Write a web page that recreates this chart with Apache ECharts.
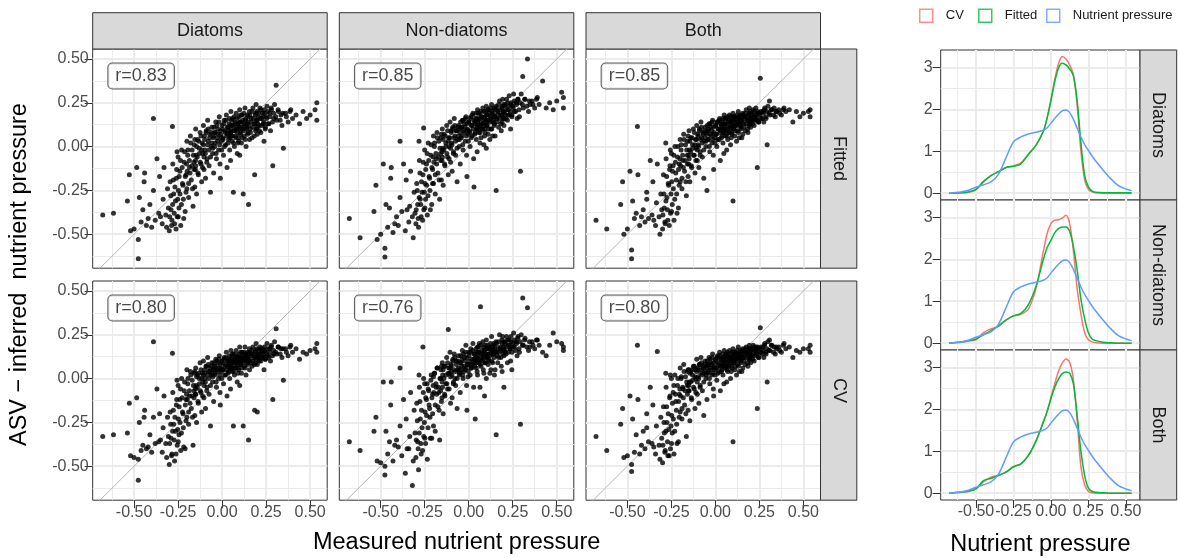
<!DOCTYPE html>
<html><head><meta charset="utf-8">
<script src="https://cdn.jsdelivr.net/npm/echarts@6/dist/echarts.min.js"></script>
<style>html,body{margin:0;padding:0;background:#fff}#c{width:1178px;height:558px}</style>
</head><body><div id="c"></div>
<script>
// ---------- data ----------
const COL_FACETS = ['Diatoms', 'Non-diatoms', 'Both'];
const ROW_FACETS = ['Fitted', 'CV'];
const R_LABELS = ['r=0.83', 'r=0.85', 'r=0.85', 'r=0.80', 'r=0.76', 'r=0.80'];
const X_TICKS = [-0.5, -0.25, 0, 0.25, 0.5];
const MINOR_TICKS = [-0.625, -0.375, -0.125, 0.125, 0.375];
const DENS_Y_TICKS = [0, 1, 2, 3];
const DENS_Y_MINOR = [0.5, 1.5, 2.5];
const LEGEND_NAMES = ['CV', 'Fitted', 'Nutrient pressure'];

const MEASURED = [-.678,-.617,-.538,-.527,-.485,-.476,-.476,-.50,-.46,-.47,
-.52,-.45,-.44,-.43,-.42,-.41,-.40,-.39,-.39,-.38,
-.37,-.36,-.35,-.355,-.34,-.335,-.33,-.32,-.315,-.31,
-.305,-.30,-.295,-.29,-.285,-.282,-.28,-.275,-.27,-.265,
-.26,-.255,-.25,-.248,-.245,-.24,-.235,-.23,-.225,-.22,
-.215,-.21,-.205,-.20,-.20,-.195,-.19,-.185,-.18,-.175,
-.17,-.165,-.16,-.158,-.155,-.152,-.15,-.148,-.145,-.14,
-.135,-.13,-.125,-.12,-.116,-.113,-.11,-.106,-.103,-.10,
-.098,-.094,-.09,-.086,-.082,-.078,-.074,-.07,-.066,-.062,
-.058,-.054,-.05,-.048,-.044,-.04,-.036,-.032,-.028,-.024,
-.02,-.016,-.012,-.008,-.01,-.004,0,.004,.008,.012,
.016,.02,.024,.028,.03,.034,.037,.04,.043,.046,
.05,.05,.048,.054,.057,.06,.064,.067,.07,.073,
.076,.08,.083,.086,.089,.092,.095,.098,.10,.09,
.10,.103,.106,.11,.113,.116,.12,.123,.126,.13,
.133,.136,.14,.143,.146,.15,.148,.156,.155,.16,
.165,.17,.175,.18,.185,.188,.19,.193,.196,.20,
.198,.20,.205,.21,.215,.22,.225,.23,.235,.238,
.24,.245,.25,.255,.26,.27,.275,.28,.288,.294,
.298,.307,.31,.32,.334,.34,.348,.36,.375,.39,
.40,.42,.44,.46,.48,.50,.528,.538,.538,-.443,-.256,
-.298,-.292,-.287,-.281,-.277,-.272,-.268,-.262,-.258,-.252,
-.249,-.244,-.239,-.236,-.231,-.227,-.222,-.218,-.213,-.209,-.205,-.202,
-.198,-.194,-.19,-.186,-.182,-.178,-.172,-.168,-.163,-.159,-.155,-.151,
-.149,-.145,-.141,-.137,-.133,-.129,-.124,-.12,-.116,-.111,-.107,-.103,
-.099,-.095,-.091,-.087,-.083,-.079,-.075,-.071,-.066,-.062,-.058,-.053,
-.049,-.046,-.042,-.038,-.034,-.03,-.026,-.022,-.018,-.014,-.01,-.006,-.002,
.002,.006,.01,.014,.018,.022,.026,.03,.034,.038,.042,.045,.047,.049,
.052,.055,.058,.061,.065,.068,.071,.074,.078,.081,.085,.088,.091,.094,.097,
.101,.104,.107,.11,.114,.117,.12,.124,.127,.131,.134,.138,.141,.145,.149,
.152,.157,.161,.166,.17,.174,.178,.183,.187,.191,.195,.199,
.203,.208,.212,.217,.221,.226,.231,.236,.241,.246,
.253,.259,.266,.272,.279,.286,.293,
.305,.318,.33,.345,.365,.385];

const DIATOMS_FITTED = [-.39,-.38,-.31,-.16,-.12,-.64,-.53,-.47,-.43,-.29,
-.48,-.36,-.15,-.45,-.41,-.33,-.46,.16,-.25,-.42,
-.07,-.38,-.40,-.17,-.44,-.30,-.12,-.39,-.46,-.24,
-.35,-.48,-.20,-.36,-.42,.115,-.10,-.27,-.44,-.31,
-.18,-.40,-.06,-.25,-.35,-.14,-.45,-.02,-.21,-.30,
-.09,-.37,-.16,.03,-.24,-.05,-.29,-.12,.06,-.19,
-.02,-.34,-.09,.01,-.23,-.13,.10,-.05,-.27,.04,
-.16,-.01,.08,-.10,-.20,.02,-.04,.12,-.13,.06,
-.02,-.18,.09,-.07,.15,.03,-.11,.07,-.26,0,
.11,-.04,.05,-.15,.08,.02,.14,-.07,.05,.10,
-.02,.17,-.10,.07,-.18,.03,.12,.05,-.05,.15,
.09,.01,.18,-.12,.07,.11,.04,.13,-.02,.08,
.20,.06,-.08,.12,.03,.16,-.26,.09,0,.14,
.06,.19,.10,-.04,.13,.05,.17,.11,-.05,.02,
.21,.08,.14,.02,.18,.10,-.27,.13,.06,.22,
.15,0,.11,.18,.08,-.33,.14,.04,.20,.10,
.16,.05,.22,.13,-.16,.18,.09,.24,.15,.11,
.20,.07,.17,.12,.22,.08,.16,.19,.13,.03,
.21,.10,.17,.23,.13,.19,.09,.21,-.11,.16,
.24,.35,.15,.20,.18,.12,-.01,.19,.14,.21,
.16,.18,.13,.20,.16,.18,.21,.25,.15,-.20,-.03,
-.40,-.28,-.45,-.33,-.19,-.38,-.23,-.47,-.13,-.30,
-.40,-.17,-.27,-.08,-.33,-.12,-.22,-.41,-.03,-.17,-.26,-.10,
-.14,-.02,-.21,-.08,-.15,.02,-.11,-.24,-.05,-.13,.04,-.08,
-.11,0,-.06,-.15,.03,-.04,-.09,.06,-.02,-.12,.01,-.06,
.04,-.04,.08,-.09,.01,.10,-.02,.05,-.06,.08,.02,-.01,
.06,.11,0,.08,-.04,.12,.03,.07,.14,.01,.09,.05,-.02,
.10,.04,.13,0,.08,.15,.06,.11,.02,.09,.16,.05,.12,.08,
.10,.15,.06,.12,.02,.17,.09,.13,.05,.11,.16,.08,.13,.03,.10,
.14,.07,.18,.11,.05,.15,.09,.19,.12,.04,.16,.10,.13,.07,.17,
.12,.18,.08,.14,.20,.11,.16,.06,.13,.19,.10,.15,
.13,.19,.09,.16,.21,.12,.17,.14,.19,.11,
.16,.20,.13,.17,.22,.14,.19,
.17,.21,.15,.19,.17,.20];

const NONDIATOMS_FITTED = [-.41,-.52,-.37,-.22,-.10,-.63,-.58,-.50,-.46,-.33,
-.53,-.35,-.12,-.49,-.44,-.40,-.45,.03,-.29,-.37,
-.10,-.48,-.36,-.19,-.43,-.34,-.14,-.40,-.52,-.26,
-.38,-.44,-.21,-.33,-.46,.03,-.08,-.30,-.40,-.26,
-.16,-.36,-.02,-.21,-.30,-.10,-.39,.02,-.17,-.25,
-.05,-.33,-.13,.06,-.21,0,-.27,-.07,.08,-.15,
.03,-.30,-.04,.05,-.19,-.08,.10,-.01,-.22,.07,
-.11,.02,.12,-.06,-.16,.05,0,.14,-.09,.09,
.02,-.14,.10,-.03,.16,.06,-.05,.09,-.20,.04,
.12,0,.08,-.10,.11,.06,.15,-.02,.09,.13,
.03,.17,-.05,.10,-.17,.07,.14,.09,0,.17,
.12,.06,.19,-.07,-.23,.14,.08,.16,.04,.11,
.21,.10,-.03,.15,.08,.19,.02,.12,.05,.17,
.10,.22,.13,.01,.16,.10,.20,.14,-.01,.06,
.23,.12,.18,.07,.21,.15,.04,.17,.10,.24,
.19,.06,.15,.22,.13,.06,.17,-.25,.23,.16,
.20,.11,.26,.18,.09,.22,.14,.27,.20,.16,
.24,.12,.23,.18,.27,.15,.21,.29,.18,.10,
.25,.17,.23,.30,.20,.25,.16,.27,.17,-.14,
.30,.40,.22,.27,.50,.20,.24,.26,.22,.28,
.24,.375,.22,.25,.21,.26,.31,.22,.28,-.18,.106,
-.36,-.25,-.41,-.29,-.15,-.33,-.20,-.42,-.09,-.26,
-.35,-.13,-.22,-.04,-.28,-.08,-.18,-.36,.01,-.12,-.21,-.06,
-.09,.02,-.16,-.04,-.10,.05,-.06,-.19,-.01,-.08,.07,-.03,
-.06,.04,-.02,-.10,.06,0,-.04,.09,.03,-.07,.05,-.01,
.08,.01,.11,-.04,.05,.12,.03,.09,-.01,.11,.06,.04,
.10,.14,.05,.11,.01,.15,.08,.11,.16,.06,.13,.09,.03,
.14,.08,.16,.05,.12,.18,.10,.15,.07,.13,.19,.10,.16,.12,
.14,.19,.11,.16,.08,.20,.13,.17,.10,.15,.20,.12,.17,.08,.15,
.18,.12,.21,.15,.10,.19,.14,.22,.16,.10,.20,.14,.18,.12,.21,
.17,.22,.14,.19,.24,.16,.21,.13,.18,.23,.16,.20,
.19,.24,.16,.21,.25,.18,.23,.20,.24,.18,
.22,.26,.20,.24,.27,.21,.25,
.24,.27,.23,.26,.24,.27];

const BOTH_FITTED = [-.42,-.47,-.33,-.20,-.14,-.64,-.59,-.47,-.41,-.31,
-.50,-.38,-.16,-.45,-.40,-.36,-.43,-.30,-.26,-.41,
-.08,-.39,-.42,-.20,-.45,-.32,-.10,-.40,-.50,-.27,
-.36,-.47,-.16,-.35,-.44,.02,-.07,-.29,-.42,-.22,
-.13,-.38,-.04,-.20,-.33,-.11,-.42,0,-.15,-.27,
-.06,-.35,-.10,.04,-.20,-.02,-.24,-.08,.07,-.14,
.01,-.28,-.05,.03,-.17,-.10,.09,-.02,-.20,.05,
-.12,.01,.10,-.05,-.15,.04,-.01,.12,-.08,.07,
.01,-.12,.09,-.03,.14,.05,-.06,.08,-.18,.03,
.11,0,.07,-.25,.09,.04,.13,-.03,.07,.11,
.02,.15,-.05,.08,-.13,.05,.12,.07,0,.14,
.10,.04,.16,-.08,.09,.12,.06,.14,.02,.10,
.18,.08,-.04,.13,.06,.16,-.02,.10,.04,.15,
.08,.18,.11,.01,.14,.08,.17,.12,-.31,.05,
.19,.10,.15,.06,.17,.12,.03,.14,.09,.20,
.16,.05,.13,.18,.11,.05,.15,.07,.19,.13,
.17,.09,.21,.15,.08,.18,.12,.22,.16,.14,
.20,.11,.18,.15,.21,.12,.17,.22,.15,-.12,
.20,.14,.19,.39,.16,.20,.14,.22,.16,.01,
.23,.26,.18,.21,.22,.17,.20,.21,.18,.22,
.20,.21,.14,.20,.17,.19,.20,.17,.21,.115,-.02,
-.39,-.27,-.43,-.31,-.17,-.36,-.21,-.45,-.11,-.27,
-.37,-.14,-.24,-.05,-.30,-.09,-.19,-.38,0,-.13,-.22,-.07,
-.11,.01,-.18,-.05,-.12,.04,-.08,-.20,-.02,-.10,.06,-.05,
-.07,.03,-.03,-.11,.05,-.01,-.05,.08,.01,-.08,.04,-.02,
.06,0,.10,-.05,.04,.11,.02,.07,-.02,.09,.05,.03,
.08,.12,.04,.10,0,.13,.06,.09,.14,.04,.11,.07,.02,
.12,.07,.14,.04,.10,.15,.08,.13,.05,.11,.16,.08,.13,.10,
.12,.16,.09,.13,.06,.17,.11,.14,.08,.13,.17,.10,.15,.07,.12,
.15,.10,.17,.13,.09,.16,.12,.18,.14,.08,.17,.12,.15,.10,.17,
.14,.18,.11,.16,.19,.13,.17,.10,.15,.19,.13,.16,
.15,.19,.13,.17,.20,.15,.18,.16,.19,.14,
.18,.20,.16,.19,.21,.17,.20,
.19,.21,.18,.20,.19,.21];

const DIATOMS_CV = [-.33,-.32,-.31,-.14,-.11,-.58,-.46,-.45,-.41,-.25,
-.44,-.38,-.18,-.40,-.39,-.32,-.42,.21,-.22,-.37,
-.06,-.36,-.35,-.20,-.42,-.28,-.10,-.37,-.45,-.22,
-.33,-.49,-.19,-.34,-.43,.145,-.08,-.26,-.47,-.30,
-.15,-.38,-.04,-.23,-.32,-.12,-.41,0,-.19,-.28,
-.07,-.40,-.12,.05,-.22,-.03,-.26,-.10,.04,-.17,
-.01,-.38,-.07,.03,-.21,-.09,.06,-.04,-.25,.02,
-.14,0,.09,-.08,-.19,.03,-.02,.10,-.11,.05,
0,-.17,.07,-.05,.12,.04,-.09,.06,-.27,.02,
.09,-.02,.05,-.13,.07,.03,.11,-.05,.05,.09,
0,.13,-.08,.06,-.15,.04,.10,.05,-.03,.12,
.08,.02,.15,-.10,.07,.10,.04,.11,0,.08,
.16,.06,-.06,.11,.04,.14,-.27,.09,.02,.12,
.06,.16,.09,-.02,.11,.06,.14,.10,-.04,.03,
.18,.08,.12,.03,.15,.10,-.27,.12,.07,.18,
.13,.02,.11,.15,.09,-.35,.12,.05,.17,.10,
.14,.07,.18,.12,-.18,.15,.09,.20,.13,-.19,
.17,.08,.14,.12,.18,.10,.15,.17,.12,.05,
.18,.11,.15,.20,.13,.17,.10,.19,-.12,.14,
.21,.285,.14,.18,.17,.12,-.01,.17,.13,.19,
.15,.17,.11,.15,.14,.16,.17,.20,.15,-.22,-.01,
-.37,-.26,-.44,-.30,-.18,-.35,-.22,-.43,-.12,-.29,
-.36,-.16,-.25,-.06,-.31,-.11,-.20,-.39,-.02,-.15,-.24,-.09,
-.12,0,-.19,-.07,-.14,.02,-.10,-.22,-.04,-.11,.04,-.06,
-.09,.01,-.05,-.13,.03,-.03,-.07,.05,0,-.10,.02,-.04,
.03,-.02,.07,-.07,.02,.08,0,.04,-.04,.07,.03,.01,
.05,.09,.02,.07,-.02,.10,.04,.06,.11,.02,.08,.05,0,
.09,.05,.11,.02,.07,.12,.05,.10,.03,.08,.13,.06,.10,.07,
.09,.13,.06,.10,.04,.14,.08,.11,.06,.10,.13,.08,.12,.05,.09,
.12,.08,.15,.10,.06,.13,.09,.15,.11,.06,.14,.10,.12,.08,.14,
.11,.15,.09,.13,.16,.10,.14,.08,.12,.16,.11,.13,
.12,.16,.10,.14,.17,.12,.15,.13,.16,.11,
.14,.17,.12,.15,.18,.13,.16,
.15,.18,.14,.17,.15,.18];

const NONDIATOMS_CV = [-.36,-.41,-.30,-.22,-.02,-.55,-.50,-.48,-.43,-.30,
-.47,-.36,-.02,-.47,-.38,-.35,-.39,.06,-.27,-.44,
-.12,-.54,-.40,-.23,-.40,-.33,-.08,-.61,-.47,-.18,
-.31,-.45,-.14,-.36,-.52,.02,-.05,-.23,-.43,-.28,
.18,-.33,-.03,-.19,-.37,-.12,-.46,-.06,-.15,-.22,
-.01,-.34,-.09,.01,-.27,.03,-.30,-.05,.06,-.16,
-.08,-.35,0,.05,-.13,-.11,.09,.02,-.20,.07,
-.10,-.03,.12,-.06,.28,.06,.03,.15,-.14,.08,
.04,-.11,.11,-.02,.14,0,-.04,.10,-.17,.05,
.13,.02,.03,-.08,.09,.07,.16,0,.04,.12,
.05,.19,-.04,.08,-.18,.01,.15,.10,.02,.17,
.06,.08,.20,-.05,.11,.14,-.23,.10,.06,.12,
.18,.02,.04,.15,.09,.20,-.05,.41,.07,.14,
.11,.21,.05,.03,.16,.09,.19,.13,0,-.10,
.22,.12,.17,.08,.11,.14,.03,.18,.05,.24,
.16,.09,.14,.20,.02,.05,.17,-.32,.21,.15,
.09,.12,.25,.17,.07,.22,.04,.24,.18,.13,
.21,-.05,.20,.15,.24,.09,.19,.22,.17,.10,
.24,.05,.20,.26,.18,.21,.13,.24,.15,-.26,
.25,.46,.19,.23,.405,.16,.18,.21,.17,.22,
.19,.15,.13,.19,.26,.21,.20,.18,.16,-.15,0,
-.35,-.24,-.40,-.31,-.13,-.37,-.18,-.41,-.08,-.25,
-.34,-.11,-.21,-.03,-.28,-.07,-.17,-.34,.02,-.11,-.20,-.04,
-.08,.03,-.15,-.03,-.09,.06,-.05,-.18,0,-.07,.07,-.02,
-.05,.05,0,-.09,.07,.02,-.03,.09,.03,-.06,.06,.01,
.07,.02,.10,-.03,.05,.12,.04,.08,0,.10,.06,.04,
.09,.13,.05,.11,.02,.14,.07,.10,.15,.06,.12,.08,.04,
.13,.08,.15,.06,.11,.16,.09,.14,.07,.12,.17,.09,.15,.11,
.13,.18,.10,.15,.08,.19,.12,.16,.10,.14,.18,.12,.16,.09,.14,
.17,.12,.19,.14,.10,.17,.13,.20,.15,.10,.18,.14,.16,.12,.19,
.15,.20,.13,.17,.21,.15,.18,.12,.16,.20,.14,.17,
.16,.21,.14,.18,.22,.15,.19,.17,.21,.15,
.18,.22,.16,.20,.23,.17,.21,
.19,.22,.18,.21,.19,.22];

const BOTH_CV = [-.33,-.41,-.26,-.17,-.10,-.53,-.49,-.44,-.42,-.23,
-.45,-.32,-.12,-.43,-.38,-.30,-.40,-.28,-.20,-.36,
-.05,-.37,-.39,-.15,-.43,-.27,.155,-.38,-.46,-.22,
-.34,-.48,-.16,-.31,-.41,.03,-.05,-.25,-.44,-.29,
-.11,-.40,0,-.21,-.31,-.08,-.43,.02,-.13,-.26,
-.04,-.36,-.09,.06,-.19,0,-.23,-.06,.08,-.15,
.01,-.33,-.04,.04,-.18,-.07,.05,-.02,-.24,.04,
-.12,.02,.07,-.06,-.17,.05,0,.11,-.09,.06,
.01,-.14,.08,-.04,.12,.05,-.07,.07,-.21,.03,
.10,0,.06,-.12,.08,.04,.12,-.03,.06,.09,
.02,.14,-.06,.07,-.10,.05,.11,.06,-.01,.13,
.09,.04,.15,-.07,.07,.11,.05,.12,.02,.09,
.16,.07,-.03,.12,.06,.14,-.02,.09,.04,.13,
.07,.16,.10,0,.12,.07,.15,.11,-.36,.04,
.17,.09,.13,.05,.15,.11,.02,.12,.08,.18,
.14,.04,.12,.16,.10,.04,.13,.06,.17,.12,
.15,.08,.18,.14,.07,.16,.11,.19,.15,.12,
.17,.09,.16,.13,.19,.10,.16,.18,.14,-.17,
.18,.12,.17,.29,.15,.18,.12,.20,.14,-.02,
.21,.22,.16,.19,.18,.14,.17,.18,.15,.20,
.17,.18,.12,.16,.15,.17,.17,.19,.15,.19,.02,
-.38,-.25,-.42,-.30,-.16,-.36,-.20,-.44,-.10,-.27,
-.37,-.14,-.23,-.04,-.30,-.09,-.18,-.37,0,-.13,-.22,-.06,
-.10,.01,-.17,-.05,-.11,.04,-.07,-.20,-.02,-.09,.05,-.04,
-.07,.03,-.02,-.11,.05,-.01,-.05,.07,.01,-.08,.04,-.02,
.05,0,.08,-.05,.03,.09,.02,.06,-.02,.08,.04,.02,
.07,.10,.03,.08,0,.11,.05,.08,.12,.03,.09,.06,.02,
.10,.06,.12,.03,.08,.13,.07,.11,.04,.09,.14,.07,.11,.08,
.10,.13,.07,.11,.05,.15,.09,.12,.07,.11,.14,.09,.12,.06,.10,
.13,.09,.15,.11,.07,.14,.10,.16,.12,.07,.14,.11,.13,.09,.15,
.12,.16,.10,.14,.17,.12,.15,.09,.13,.17,.11,.14,
.13,.17,.11,.15,.18,.13,.16,.14,.17,.12,
.15,.18,.14,.16,.19,.15,.17,
.16,.19,.15,.18,.16,.19];

// density curves (x grid shared)
const DENS_X = [-.678,-.65,-.6,-.55,-.5,-.45,-.4,-.35,-.3,-.25,-.2,-.15,-.1,-.05,-.025,0,.025,.05,.075,.1,.125,.15,.175,.2,.225,.25,.275,.3,.35,.4,.45,.5,.538];
const DENS_NUTRIENT = [0,.01,.03,.07,.14,.20,.27,.45,.84,1.22,1.34,1.41,1.45,1.50,1.56,1.67,1.78,1.88,1.96,1.98,1.92,1.76,1.55,1.34,1.16,1.02,.88,.76,.54,.34,.18,.10,.06];
const DENS_DIATOMS_CV = [0,0,.01,.02,.08,.26,.42,.51,.61,.65,.72,.93,1.14,1.48,1.80,2.22,2.70,3.08,3.26,3.20,3.06,2.82,2.10,1.00,.32,.09,.03,.01,0,0,0,0,0];
const DENS_DIATOMS_FITTED = [0,0,.01,.03,.09,.28,.42,.51,.61,.64,.70,.93,1.14,1.48,1.80,2.20,2.65,2.98,3.10,3.06,2.96,2.80,2.20,1.20,.42,.15,.05,.02,.01,.01,.01,.01,.01];
const DENS_NONDIATOMS_CV = [0,.01,.02,.05,.08,.25,.34,.40,.55,.65,.69,.82,1.30,2.20,2.62,2.85,2.93,2.94,2.98,3.05,2.85,2.20,1.30,.70,.25,.08,.03,.01,0,0,0,0,0];
const DENS_NONDIATOMS_FITTED = [0,.01,.03,.06,.10,.20,.30,.41,.55,.65,.71,.92,1.35,2.00,2.28,2.45,2.63,2.73,2.77,2.77,2.66,2.30,1.75,1.05,.58,.25,.10,.06,.02,.01,0,0,0];
const DENS_BOTH_CV = [0,.01,.02,.04,.10,.27,.38,.43,.50,.63,.70,.90,1.24,1.70,1.95,2.28,2.60,2.90,3.10,3.20,3.12,2.70,1.75,.62,.20,.04,.01,0,0,0,0,0,0];
const DENS_BOTH_FITTED = [0,.01,.02,.05,.10,.30,.35,.42,.50,.63,.70,.90,1.24,1.70,1.95,2.25,2.52,2.72,2.85,2.89,2.86,2.60,1.85,1.00,.42,.12,.04,.02,.01,0,0,0,0];

// ---------- layout / style ----------
const FONT = '"Liberation Sans", Arial, Helvetica, sans-serif';
const COLORS = {'CV': '#F8766D', 'Fitted': '#00BA38', 'Nutrient pressure': '#619CFF'};
const LEGEND_LEFT = [919, 978, 1046];
const SX = [92.7, 339.3, 586], SW = 234.5;
const SY = [49, 281], SH = 219.2;
const DXL = 940.7, DW = 199.3, DY = [50, 200, 350], DH = 150;
const XR = [-0.735, 0.597], YR = [-0.694, 0.557];
const DXR = [-0.735, 0.594], DYR = [-0.163, 3.413];
const LABEL_POS = [-0.46, 0.403];

const grids = [], xAxes = [], yAxes = [], series = [], graphics = [];
function addGrid(left, top, w, h) {
  grids.push({left, top, width: w, height: h, show: true, borderColor: '#333333', borderWidth: 1, backgroundColor: '#ffffff'});
  return grids.length - 1;
}
function addAxis(arr, g, pos, range, major, minor, showLab, fmt, margin) {
  const base = {gridIndex: g, type: 'value', min: range[0], max: range[1], position: pos,
    axisLine: {show: false, onZero: false}};
  arr.push(Object.assign({}, base, {
    axisTick: {show: showLab, length: 8, lineStyle: {color: '#333333', width: 1}, customValues: major},
    axisLabel: {show: showLab, customValues: major, formatter: fmt, color: '#4d4d4d', fontSize: 16, fontFamily: FONT, margin: margin},
    splitLine: {show: true, lineStyle: {color: '#ebebeb', width: 2}}
  }));
  const idx = arr.length - 1;
  arr.push(Object.assign({}, base, {
    axisTick: {show: false, customValues: minor},
    axisLabel: {show: false},
    splitLine: {show: true, lineStyle: {color: '#ebebeb', width: 1}}
  }));
  return idx;
}
const f2 = v => v.toFixed(2);
const f0 = v => String(Math.round(v));

const PANEL_Y = [DIATOMS_FITTED, NONDIATOMS_FITTED, BOTH_FITTED, DIATOMS_CV, NONDIATOMS_CV, BOTH_CV];

// scatter panels
for (let r = 0; r < 2; r++) {
  for (let c = 0; c < 3; c++) {
    const p = r * 3 + c;
    const g = addGrid(SX[c], SY[r], SW, SH);
    const xi = addAxis(xAxes, g, 'bottom', XR, X_TICKS, MINOR_TICKS, r === 1, f2, 4);
    const yi = addAxis(yAxes, g, 'left', YR, X_TICKS, MINOR_TICKS, c === 0, f2, 4);
    series.push({type: 'line', xAxisIndex: xi, yAxisIndex: yi, data: [[-1, -1], [1, 1]], symbol: 'none',
      lineStyle: {color: '#b3b3b3', width: 1}, silent: true, clip: true, z: 1, animation: false});
    series.push({type: 'scatter', xAxisIndex: xi, yAxisIndex: yi,
      data: MEASURED.map((x, i) => [x, PANEL_Y[p][i]]),
      symbolSize: 5, itemStyle: {color: '#000000'}, silent: true, z: 2, animation: false});
    series.push({type: 'scatter', xAxisIndex: xi, yAxisIndex: yi, data: [LABEL_POS], symbolSize: 0,
      silent: true, z: 3, animation: false,
      label: {show: true, position: 'inside', formatter: R_LABELS[p], backgroundColor: '#ffffff',
        borderColor: '#333333', borderWidth: 1, borderRadius: 4, padding: [4, 7, 3, 7],
        fontSize: 18, color: '#1a1a1a', fontFamily: FONT}});
  }
}

// density panels
const densGrids = [];
for (let d = 0; d < 3; d++) {
  const g = addGrid(DXL, DY[d], DW, DH);
  const xi = addAxis(xAxes, g, 'bottom', DXR, X_TICKS, MINOR_TICKS, d === 2, f2, 4);
  const yi = addAxis(yAxes, g, 'left', DYR, DENS_Y_TICKS, DENS_Y_MINOR, true, f0, 8);
  densGrids.push([xi, yi]);
}
// legend key series (first series with each name)
LEGEND_NAMES.slice().reverse().forEach(n => {
  series.unshift({type: 'scatter', name: n, xAxisIndex: densGrids[0][0], yAxisIndex: densGrids[0][1], data: [],
    itemStyle: {color: 'rgba(0,0,0,0)', borderColor: COLORS[n], borderWidth: 1.5}});
});
const DENS_SETS = [
  [DENS_DIATOMS_CV, DENS_DIATOMS_FITTED],
  [DENS_NONDIATOMS_CV, DENS_NONDIATOMS_FITTED],
  [DENS_BOTH_CV, DENS_BOTH_FITTED]
];
for (let d = 0; d < 3; d++) {
  const [xi, yi] = densGrids[d];
  const curves = {'CV': DENS_SETS[d][0], 'Fitted': DENS_SETS[d][1], 'Nutrient pressure': DENS_NUTRIENT};
  LEGEND_NAMES.forEach(n => {
    series.push({type: 'line', name: n, xAxisIndex: xi, yAxisIndex: yi,
      data: DENS_X.map((x, i) => [x, curves[n][i]]), showSymbol: false, symbol: 'none', smooth: 0.3,
      lineStyle: {color: COLORS[n], width: 1.5}, itemStyle: {color: COLORS[n]}, silent: true, animation: false, z: 2});
  });
}

// strips
function strip(x, y, w, h, text, vertical) {
  graphics.push({type: 'rect', shape: {x, y, width: w, height: h}, style: {fill: '#d9d9d9', stroke: '#333333', lineWidth: 1}, z: 1});
  graphics.push({type: 'text', x: x + w / 2, y: y + h / 2, rotation: vertical ? -Math.PI / 2 : 0, z: 2,
    style: {text, fill: '#1a1a1a', fontSize: 18, fontFamily: FONT, align: 'center', verticalAlign: 'middle'}});
}
COL_FACETS.forEach((t, c) => strip(SX[c], 12.7, SW, 36.3, t, false));
ROW_FACETS.forEach((t, r) => strip(SX[2] + SW, SY[r], 36.3, SH, t, true));
COL_FACETS.forEach((t, d) => strip(DXL + DW, DY[d], 36.7, DH, t, true));

// axis titles
graphics.push({type: 'text', x: (SX[0] + SX[2] + SW) / 2, y: 543, z: 2,
  style: {text: 'Measured nutrient pressure', fill: '#000', fontSize: 23.5, fontFamily: FONT, align: 'center', verticalAlign: 'middle'}});
graphics.push({type: 'text', x: 20, y: (SY[0] + SY[1] + SH) / 2, rotation: Math.PI / 2, z: 2,
  style: {text: 'ASV \u2212 inferred  nutrient pressure', fill: '#000', fontSize: 23.5, fontFamily: FONT, align: 'center', verticalAlign: 'middle'}});
graphics.push({type: 'text', x: DXL + DW / 2, y: 545, z: 2,
  style: {text: 'Nutrient pressure', fill: '#000', fontSize: 23.5, fontFamily: FONT, align: 'center', verticalAlign: 'middle'}});

const chart = echarts.init(document.getElementById('c'), null, {renderer: 'canvas'});
chart.setOption({
  animation: false,
  backgroundColor: '#ffffff',
  grid: grids, xAxis: xAxes, yAxis: yAxes, series,
  legend: LEGEND_NAMES.map((n, i) => ({
    data: [{name: n, icon: 'rect', itemStyle: {color: 'rgba(0,0,0,0)', borderColor: COLORS[n], borderWidth: 1.5}}],
    left: LEGEND_LEFT[i], top: 8.5, padding: 0, itemWidth: 13, itemHeight: 13, selectedMode: false,
    textStyle: {fontSize: 13, color: '#1a1a1a', fontFamily: FONT, padding: [0, 0, 0, 8]}
  })),
  graphic: {elements: graphics}
});
</script>
</body></html>
